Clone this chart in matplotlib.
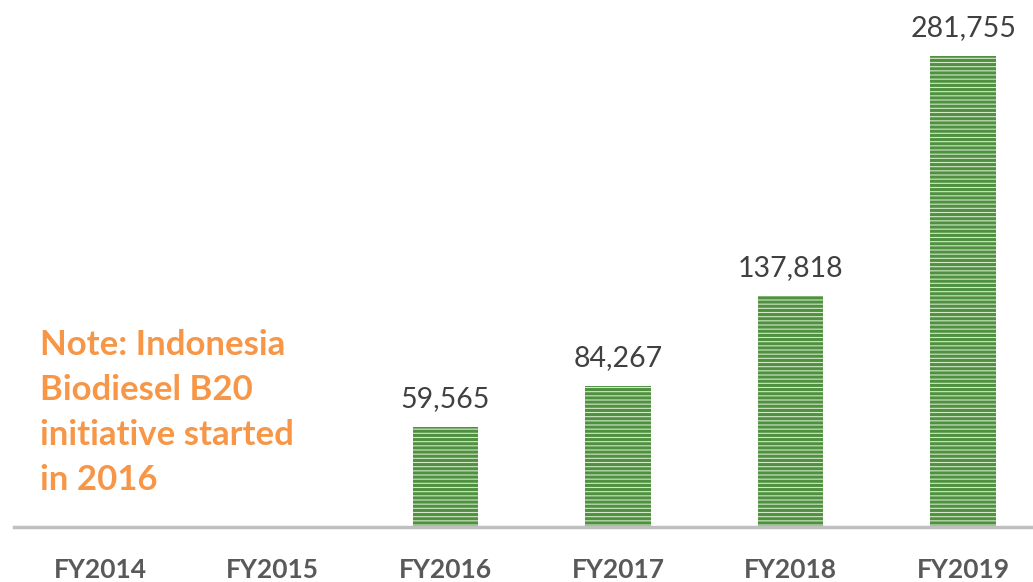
import matplotlib
matplotlib.use("Agg")
import matplotlib.pyplot as plt

# data
years = ["FY2014", "FY2015", "FY2016", "FY2017", "FY2018", "FY2019"]
volumes = [0, 0, 59565, 84267, 137818, 281755]
note = "Note: Indonesia\nBiodiesel B20\ninitiative started\nin 2016"

plt.rcParams['font.family'] = ['Lato', 'DejaVu Sans']
plt.rcParams['hatch.linewidth'] = 2.2

W, H = 1033, 582
fig = plt.figure(figsize=(W / 100, H / 100), dpi=100)
ax = fig.add_axes([14 / W, 55 / H, (W - 14) / W, 527 / H])

x = list(range(len(years)))
heights = [v if v > 0 else 0 for v in volumes]
bars = ax.bar(x, heights, width=0.38, color='#d2e9c6', edgecolor='#4f9140',
              linewidth=0, hatch='----', zorder=2)

for xi, v in zip(x, volumes):
    if v > 0:
        ax.text(xi, v + 9000, f"{v:,}", ha='center', va='bottom',
                fontsize=20.5, color='#404040')

ax.set_xlim(-0.5, 5.405)
ax.set_ylim(0, 315000)
ax.set_yticks([])
ax.set_xticks(x)
ax.set_xticklabels(years, fontsize=19, fontweight='bold', color='#595959')
ax.tick_params(axis='x', length=0, pad=22)
for s in ['top', 'right', 'left']:
    ax.spines[s].set_visible(False)
ax.spines['bottom'].set_color('#bfbfbf')
ax.spines['bottom'].set_linewidth(2.5)

fig.text(40 / W, 1 - 329 / H, note, ha='left', va='top', fontsize=25,
         fontweight='bold', color='#f79646', linespacing=1.5)

fig.savefig("out.png", dpi=100)
